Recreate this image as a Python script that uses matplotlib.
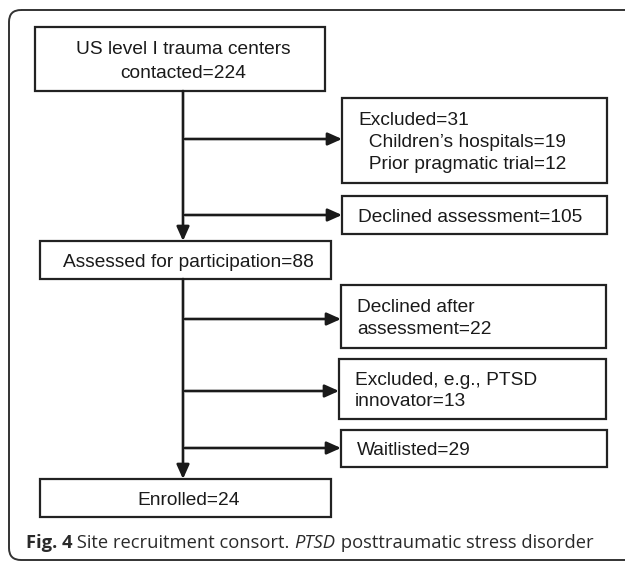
import matplotlib
matplotlib.use("Agg")
import matplotlib.pyplot as plt
from matplotlib.patches import Rectangle, FancyBboxPatch

# ---- content ----
main_labels = ["US level I trauma centers\ncontacted=224",
               "Assessed for participation=88",
               "Enrolled=24"]
side_labels = ["Excluded=31\n  Children\u2019s hospitals=19\n  Prior pragmatic trial=12",
               "Declined assessment=105",
               "Declined after\nassessment=22",
               "Excluded, e.g., PTSD\ninnovator=13",
               "Waitlisted=29"]
caption_bold = "Fig. 4"
caption_plain = " Site recruitment consort. "
caption_italic = "PTSD"
caption_end = " posttraumatic stress disorder"

# ---- layout (pixel coordinates) ----
main_boxes = [(35, 27, 325, 91), (40, 241, 331, 279), (40, 479, 331, 517)]
side_boxes = [(342, 98, 607, 183), (342, 196, 607, 234), (341, 285, 606, 348),
              (339, 359, 606, 419), (341, 430, 607, 467)]
side_arrow_y = [139, 215, 319, 391, 448]
trunk_x = 183

W, H = 625, 563
fig = plt.figure(figsize=(W / 100, H / 100), dpi=100)
ax = fig.add_axes([0, 0, 1, 1])
ax.set_xlim(0, W)
ax.set_ylim(H, 0)
ax.axis("off")

FONT = "Liberation Sans"
FS = 13.8
EC = "#222222"
TC = "#1a1a1a"

# outer rounded frame
frame = FancyBboxPatch((9, 10), 640, 550, boxstyle="round,pad=0,rounding_size=12",
                       fill=False, ec="#333333", lw=1.4)
ax.add_patch(frame)

for i, ((x0, y0, x1, y1), lab) in enumerate(zip(main_boxes, main_labels)):
    ax.add_patch(Rectangle((x0, y0), x1 - x0, y1 - y0, fill=False, ec=EC, lw=1.6))
    ax.text((x0 + x1) / 2 + 3, (y0 + y1) / 2 + 2.5, lab, ha="center", va="center",
            fontsize=FS, family=FONT, color=TC, linespacing=1.55)

for (x0, y0, x1, y1), lab in zip(side_boxes, side_labels):
    ax.add_patch(Rectangle((x0, y0), x1 - x0, y1 - y0, fill=False, ec=EC, lw=1.6))
    ax.text(x0 + 16, (y0 + y1) / 2 + 2, lab, ha="left", va="center",
            fontsize=FS, family=FONT, color=TC, linespacing=1.36)

arrow_kw = dict(arrowstyle="-|>,head_length=0.85,head_width=0.38", lw=1.9,
                color="#1a1a1a", shrinkA=0, shrinkB=0, mutation_scale=10)

# trunk segments with arrows into main boxes
ax.annotate("", xy=(trunk_x, main_boxes[1][1]), xytext=(trunk_x, main_boxes[0][3]),
            arrowprops=arrow_kw)
ax.annotate("", xy=(trunk_x, main_boxes[2][1]), xytext=(trunk_x, main_boxes[1][3]),
            arrowprops=arrow_kw)

# side arrows
for y, (x0, y0, x1, y1) in zip(side_arrow_y, side_boxes):
    ax.annotate("", xy=(x0, y), xytext=(trunk_x + 2, y), arrowprops=arrow_kw)

# caption
cap_y = 543
CFS = 13.2
fig.canvas.draw()
r = fig.canvas.get_renderer()
inv = ax.transData.inverted()

def after(prev, s, **kw):
    x = 26 if prev is None else inv.transform((prev.get_window_extent(renderer=r).x1, 0))[0]
    t = ax.text(x, cap_y, s, ha="left", va="center", fontsize=CFS,
                family="Open Sans", color="#2a2a2a", **kw)
    fig.canvas.draw()
    return t

t1 = after(None, caption_bold, fontweight="bold")
t2 = after(t1, caption_plain)
t3 = after(t2, caption_italic, style="italic")
t4 = after(t3, caption_end)

fig.savefig("out.png", dpi=100)
